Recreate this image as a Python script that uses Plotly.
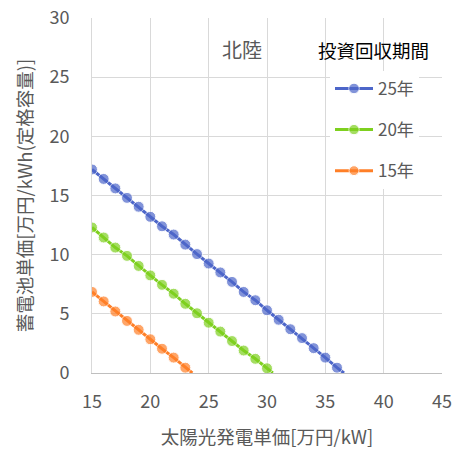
import plotly.graph_objects as go

x_25 = [15, 16, 17, 18, 19, 20, 21, 22, 23, 24, 25, 26, 27, 28, 29, 30, 31, 32, 33, 34, 35, 36, 36.6]
y_25 = [17.2, 16.4, 15.6, 14.8, 14.05, 13.2, 12.4, 11.7, 10.85, 10.05, 9.25, 8.5, 7.7, 6.85, 6.15, 5.3, 4.5, 3.7, 2.95, 2.1, 1.3, 0.45, 0.0]
x_20 = [15, 16, 17, 18, 19, 20, 21, 22, 23, 24, 25, 26, 27, 28, 29, 30, 30.5]
y_20 = [12.3, 11.45, 10.6, 9.9, 9.05, 8.25, 7.45, 6.7, 5.85, 5.05, 4.25, 3.5, 2.7, 1.9, 1.2, 0.4, 0.0]
x_15 = [15, 16, 17, 18, 19, 20, 21, 22, 23, 23.6]
y_15 = [6.85, 6.05, 5.2, 4.4, 3.65, 2.85, 2.05, 1.3, 0.45, 0.0]

series = [
    ("25年", x_25, y_25, "#4D66C9"),
    ("20年", x_20, y_20, "#7ED01F"),
    ("15年", x_15, y_15, "#FF7F27"),
]

FONT = "Noto Sans CJK JP"
fig = go.Figure()
for i, (name, xs, ys, col) in enumerate(series):
    sizes = [11] * (len(xs) - 1) + [0]
    fig.add_trace(go.Scatter(
        x=xs, y=ys, name=name, mode="lines+markers",
        line=dict(color=col, width=3),
        marker=dict(color=col, size=sizes),
        legendgroup=name,
    ))

fig.update_layout(
    width=459, height=457,
    margin=dict(l=92, r=17, t=18, b=84, autoexpand=False),
    paper_bgcolor="white", plot_bgcolor="white",
    font=dict(family=FONT, color="#595959", size=16),
    showlegend=True,
    legend=dict(
        x=0.68, y=0.851, xanchor="left", yanchor="top",
        bgcolor="white",
        font=dict(size=17, color="#595959"),
        traceorder="grouped", tracegroupgap=16,
        itemwidth=38,
    ),
    annotations=[
        dict(x=0.4286, y=0.91, xref="paper", yref="paper", text="北陸",
             xanchor="center", yanchor="middle",
             showarrow=False, font=dict(size=20, color="#595959")),
        dict(x=0.803, y=0.91, xref="paper", yref="paper", text="投資回収期間",
             xanchor="center", yanchor="middle",
             showarrow=False, font=dict(size=18.5, color="#000000")),
    ],
)
fig.update_xaxes(
    range=[15, 45], dtick=5, showgrid=True, gridcolor="#D9D9D9", gridwidth=1,
    showline=True, linecolor="#BFBFBF", zeroline=False, automargin=False,
    ticks="outside", ticklen=12, tickcolor="rgba(0,0,0,0)", ticklabeloverflow="allow",
    tickfont=dict(size=18, color="#595959"),
    title=dict(text="太陽光発電単価[万円/kW]", font=dict(size=18.5, color="#595959"), standoff=19),
)
fig.update_yaxes(
    range=[0, 30], dtick=5, showgrid=True, gridcolor="#D9D9D9", gridwidth=1,
    showline=True, linecolor="#D9D9D9", zeroline=False, automargin=False,
    ticks="outside", ticklen=18, tickcolor="rgba(0,0,0,0)", ticklabeloverflow="allow",
    tickfont=dict(size=18, color="#595959"),
    title=dict(text="蓄電池単価[万円/kWh(定格容量)]", font=dict(size=18.5, color="#595959"), standoff=11),
)
fig.write_html("out.html", config={"displayModeBar": False},
               post_script="document.body.style.margin='0';")
